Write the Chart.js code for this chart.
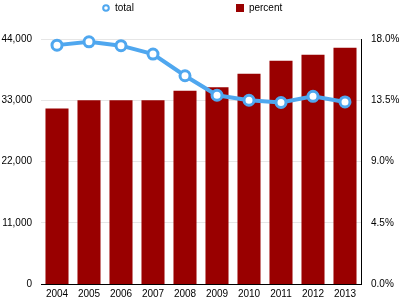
<!DOCTYPE html>
<html>
<head>
<meta charset="utf-8">
<script src="https://cdn.jsdelivr.net/npm/chart.js@4.4.0/dist/chart.umd.min.js"></script>
<style>
  html, body { margin: 0; padding: 0; background: #fff; }
  #wrap { width: 400px; height: 300px; position: relative; }
</style>
</head>
<body>
<div id="wrap"><canvas id="chart"></canvas></div>
<script>
var years = ["2004", "2005", "2006", "2007", "2008", "2009", "2010", "2011", "2012", "2013"];
var total = [42900, 43500, 42800, 41300, 37400, 33900, 33000, 32600, 33700, 32700];
var percent = [12.9, 13.5, 13.5, 13.5, 14.2, 14.45, 15.45, 16.4, 16.85, 17.35];
var leftTicks = [0, 11000, 22000, 33000, 44000];
var rightTicks = [0, 4.5, 9, 13.5, 18];

// small red square for the legend
var sq = document.createElement("canvas");
sq.width = 8; sq.height = 8;
var sctx = sq.getContext("2d");
sctx.fillStyle = "#990000";
sctx.fillRect(0, 0, 8, 8);

// make room below the legend
var legendGap = {
  id: "legendGap",
  afterInit: function(chart){
    var fit = chart.legend.fit;
    chart.legend.fit = function(){
      fit.call(this);
      this.height += 16;
    };
  }
};

Chart.defaults.font.family = "'Liberation Sans', Arial, Helvetica, sans-serif";
Chart.defaults.font.size = 10;
Chart.defaults.color = "#000";

var ctx = document.getElementById("chart").getContext("2d");
new Chart(ctx, {
  data: {
    labels: years,
    datasets: [{
      type: "line",
      label: "total",
      data: total,
      yAxisID: "y",
      borderColor: "#4fa7ef",
      borderWidth: 4,
      tension: 0,
      pointStyle: "circle",
      pointRadius: 5,
      pointBorderWidth: 3,
      pointBorderColor: "#4fa7ef",
      pointBackgroundColor: "#fff",
      clip: false
    }, {
      type: "bar",
      label: "percent",
      data: percent,
      yAxisID: "y1",
      backgroundColor: "#990000",
      pointStyle: sq,
      barPercentage: 0.72,
      categoryPercentage: 1
    }]
  },
  options: {
    responsive: true,
    maintainAspectRatio: false,
    animation: false,
    layout: { autoPadding: false, padding: { top: -99, left: 0, right: 0, bottom: 0 } },
    plugins: {
      tooltip: { enabled: false },
      legend: {
        position: "top",
        align: "start",
        labels: {
          usePointStyle: true,
          boxWidth: 8,
          boxHeight: 4,
          padding: 102,
          color: "#000",
          generateLabels: function(chart){
            var items = Chart.defaults.plugins.legend.labels.generateLabels(chart);
            items.forEach(function(it){
              if (it.datasetIndex === 0) { it.lineWidth = 2; }
            });
            return items;
          }
        }
      }
    },
    scales: {
      x: {
        grid: { display: false, drawTicks: false },
        border: { display: true, color: "#000", width: 1 },
        ticks: { padding: 4, color: "#000" },
        afterFit: function(axis){ axis.height = 16; }
      },
      y: {
        position: "left",
        min: 0,
        max: 44000,
        afterBuildTicks: function(axis){
          axis.ticks = leftTicks.map(function(v){ return {value: v}; });
        },
        grid: { color: "#e6e6e6", drawTicks: false },
        border: { display: false },
        ticks: { padding: 9, color: "#000" },
        afterFit: function(axis){ axis.width = 41; }
      },
      y1: {
        position: "right",
        min: 0,
        max: 18,
        afterBuildTicks: function(axis){
          axis.ticks = rightTicks.map(function(v){ return {value: v}; });
        },
        grid: { display: false, drawTicks: false },
        border: { display: true, color: "#000", width: 1 },
        ticks: {
          padding: 10,
          color: "#000",
          callback: function(v){ return v.toFixed(1) + "%"; }
        },
        afterFit: function(axis){ axis.width = 39; }
      }
    }
  },
  plugins: [legendGap]
});
</script>
</body>
</html>
